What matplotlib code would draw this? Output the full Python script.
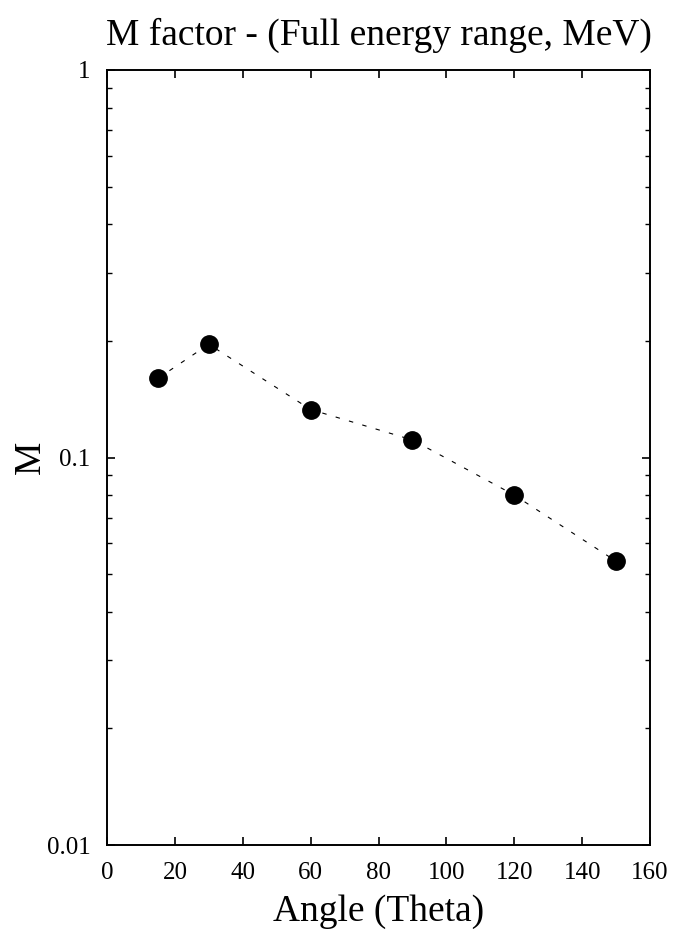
import numpy as np
import matplotlib.pyplot as plt
from matplotlib.ticker import LogLocator, NullFormatter

plt.rcParams.update({
    "font.family": "Liberation Serif",
    "font.size": 18,
    "axes.linewidth": 1.4,
})

angles = [15, 30, 60, 90, 120, 150]
m_vals = [0.160, 0.196, 0.133, 0.111, 0.080, 0.054]

x_ticks = [0, 20, 40, 60, 80, 100, 120, 140, 160]
y_ticks = [0.01, 0.1, 1]
y_labels = ["0.01", "0.1", "1"]

fig = plt.figure(figsize=(6.91, 9.33), dpi=100)
ax = fig.add_axes([107 / 691, 1 - 845 / 933, (650 - 107) / 691, (845 - 70) / 933])

ax.plot(angles, m_vals, linestyle=(0, (4, 8.5)), color="black", linewidth=0.8,
        marker="o", markersize=12.5, markerfacecolor="black", markeredgecolor="black")

ax.set_xlim(0, 160)
ax.set_yscale("log")
ax.set_ylim(0.01, 1)
ax.set_xticks(x_ticks)
ax.set_yticks(y_ticks)
ax.set_yticklabels(y_labels)
ax.yaxis.set_minor_locator(LogLocator(base=10, subs=np.arange(2, 10)))
ax.yaxis.set_minor_formatter(NullFormatter())

ax.tick_params(which="both", direction="in", top=True, right=True, labelsize=18, pad=12)
ax.tick_params(which="major", length=6, width=1.2)
ax.tick_params(which="minor", length=3.5, width=1.0)

ax.set_xlabel("Angle (Theta)", fontsize=27, labelpad=8)
ax.set_ylabel("M", fontsize=27, labelpad=-1)
ax.set_title("M factor - (Full energy range, MeV)", fontsize=27, pad=18)

fig.savefig("out.png", dpi=100)
